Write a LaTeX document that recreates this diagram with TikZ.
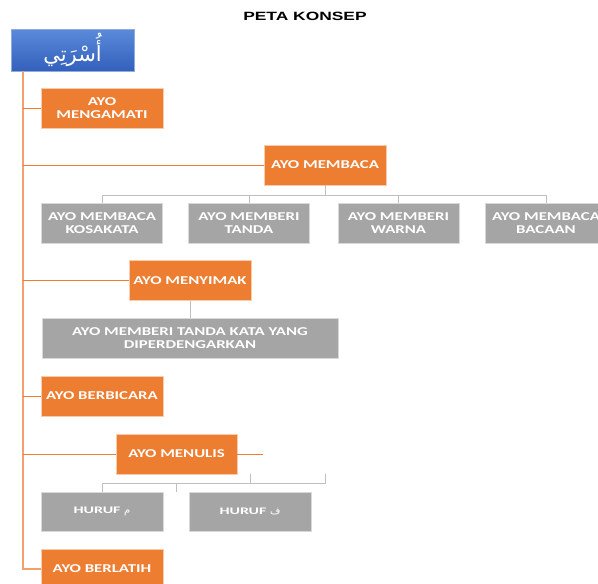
\documentclass[tikz,border=0pt]{standalone}
\usepackage{fontspec}
\usepackage{tikz}
\usetikzlibrary{positioning, calc}
\usepackage{xcolor}
\TeXXeTstate=1
\newfontfamily\titlefont[FakeStretch=1.45]{Liberation Sans}
\newfontfamily\boxfont[FakeStretch=1.4]{Carlito}
\newfontfamily\hurufont[FakeStretch=1.6]{Carlito}
\newfontfamily\arabicfont[Script=Arabic]{DejaVu Sans}
\definecolor{rootTop}{RGB}{92, 138, 218}
\definecolor{rootBot}{RGB}{50, 96, 188}
\definecolor{rootEdge}{RGB}{143, 170, 220}
\definecolor{topicFill}{RGB}{237, 125, 49}
\definecolor{topicEdge}{RGB}{248, 203, 173}
\definecolor{subFill}{RGB}{165, 165, 165}
\definecolor{subEdge}{RGB}{217, 217, 217}
\definecolor{trunkLine}{RGB}{244, 160, 110}
\definecolor{linkGrey}{RGB}{191, 191, 191}
\tikzstyle{root}     = [rectangle, minimum width=123pt, minimum height=42pt, inner sep=0pt,
                        draw=rootEdge, top color=rootTop, bottom color=rootBot, text=white,
                        font=\arabicfont\fontsize{21}{21}\selectfont]
\tikzstyle{topic}    = [rectangle, minimum width=122pt, minimum height=40pt, inner sep=0pt,
                        align=center, draw=topicEdge, fill=topicFill, text=white,
                        font=\boxfont\bfseries\fontsize{12}{13.5}\selectfont]
\tikzstyle{subtopic} = [rectangle, minimum width=121pt, minimum height=40pt, inner sep=0pt,
                        align=center, draw=subEdge, fill=subFill, text=white,
                        font=\boxfont\bfseries\fontsize{12}{13.5}\selectfont]
\tikzstyle{trunk}    = [draw=trunkLine, line width=1.6pt]
\tikzstyle{branch}   = [draw=topicFill, line width=0.8pt]
\tikzstyle{link}     = [draw=linkGrey, line width=0.9pt]

\begin{document}
\begin{tikzpicture}[x=1pt, y=-1pt]
  \useasboundingbox (0,0) rectangle (598,584);
  \clip (0,0) rectangle (598,584);

  \node (title) at (305,16.5) {\titlefont\bfseries\fontsize{12}{12}\selectfont PETA KONSEP};
  \node (family) [root] at (72.5,50) {\beginR أُسْرَتِي\endR};

  \node (mengamati)  [topic] at (102,108)   {AYO\\MENGAMATI};
  \node (membaca)    [topic] at (325,165)   {AYO MEMBACA};
  \node (kosakata)   [subtopic] at (102,223)   {AYO MEMBACA\\KOSAKATA};
  \node (tanda)      [subtopic] at (249,223)   {AYO MEMBERI\\TANDA};
  \node (warna)      [subtopic] at (398.5,223) {AYO MEMBERI\\WARNA};
  \node (bacaan)     [subtopic, minimum width=122pt] at (546,223) {AYO MEMBACA\\BACAAN};
  \node (menyimak)   [topic] at (190,280.5) {AYO MENYIMAK};
  \node (dengar)     [subtopic, minimum width=296pt] at (190,338)
                     {AYO MEMBERI TANDA KATA YANG\\DIPERDENGARKAN};
  \node (berbicara)  [topic] at (102,396)   {AYO BERBICARA};
  \node (menulis)    [topic, minimum width=121pt] at (176.5,454) {AYO MENULIS};
  \node (hurufm)     [subtopic, minimum width=122pt, minimum height=39pt] at (102,511.5)
                     {\hurufont\fontsize{10}{10}\selectfont HURUF {\arabicfont\mdseries\fontsize{10}{10}\selectfont\beginR م\endR}};
  \node (huruff)     [subtopic, minimum width=122pt, minimum height=39pt] at (250,511.5)
                     {\hurufont\fontsize{10}{10}\selectfont HURUF {\arabicfont\mdseries\fontsize{10}{10}\selectfont\beginR ف\endR}};
  \node (berlatih)   [topic] at (102,569)   {AYO BERLATIH};

  % spine of the map
  \coordinate (spine) at (23,71);
  \coordinate (rowA) at (0,195);
  \coordinate (rowB) at (0,483);
  \coordinate (menulisR) at (325,474);
  \coordinate (menulisEnd) at (263,454);

  \draw [trunk] (spine) |- (berlatih.west);
  \foreach \n in {mengamati, membaca, menyimak, berbicara, menulis}
    \draw [branch] (spine |- \n.west) -- (\n.west);
  \draw [branch] (menulis.east) -- (menulisEnd);

  % grey links
  \draw [link] (membaca.south) -- (membaca.south |- rowA);
  \draw [link] (kosakata.north) -- (kosakata.north |- rowA) -| (bacaan.north);
  \foreach \n in {tanda, warna}
    \draw [link] (\n.north) -- (\n.north |- rowA);
  \draw [link] (menyimak.south) -- (dengar.north);
  \draw [link] (hurufm.north) |- (menulisR |- rowB) -- (menulisR);
  \draw [link] (huruff.north |- menulis.south) -- (huruff.north |- rowB);
  \draw [link] (menulis.south |- rowB) -- (menulis.south |- hurufm.north);
\end{tikzpicture}
\end{document}
